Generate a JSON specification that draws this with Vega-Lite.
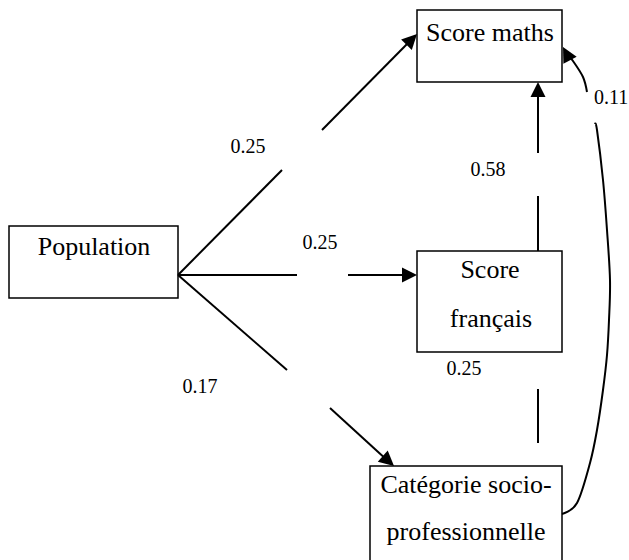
{
  "$schema": "https://vega.github.io/schema/vega-lite/v6.json",
  "width": 629,
  "height": 560,
  "padding": 0,
  "autosize": "none",
  "background": "white",
  "config": {"view": {"stroke": null}},
  "datasets": {
    "boxes": [
      {"node": "Population", "x1": 9, "x2": 178, "y1": 226, "y2": 298},
      {"node": "Score maths", "x1": 417, "x2": 562, "y1": 10, "y2": 82},
      {"node": "Score français", "x1": 417, "x2": 562, "y1": 251, "y2": 352},
      {"node": "Catégorie socio-professionnelle", "x1": 370, "x2": 562, "y1": 466, "y2": 575}
    ],
    "segments": [
      {"edge": "Population-maths", "x1": 178, "y1": 275, "x2": 282, "y2": 170},
      {"edge": "Population-maths", "x1": 322, "y1": 130, "x2": 411, "y2": 40},
      {"edge": "Population-francais", "x1": 178, "y1": 275, "x2": 297, "y2": 275},
      {"edge": "Population-francais", "x1": 348, "y1": 275, "x2": 409, "y2": 275},
      {"edge": "Population-CSP", "x1": 178, "y1": 275, "x2": 287, "y2": 370},
      {"edge": "Population-CSP", "x1": 330, "y1": 408, "x2": 388, "y2": 461},
      {"edge": "francais-maths", "x1": 538, "y1": 251, "x2": 538, "y2": 196},
      {"edge": "francais-maths", "x1": 538, "y1": 153, "x2": 538, "y2": 90},
      {"edge": "CSP-francais", "x1": 538, "y1": 389, "x2": 538, "y2": 443}
    ],
    "curve": [
      {"seg": "a", "i": 0, "x": 562, "y": 514},
      {"seg": "a", "i": 1, "x": 577, "y": 503},
      {"seg": "a", "i": 2, "x": 590, "y": 463},
      {"seg": "a", "i": 3, "x": 597, "y": 430},
      {"seg": "a", "i": 4, "x": 603, "y": 390},
      {"seg": "a", "i": 5, "x": 607, "y": 355},
      {"seg": "a", "i": 6, "x": 609, "y": 320},
      {"seg": "a", "i": 7, "x": 610, "y": 280},
      {"seg": "a", "i": 8, "x": 607, "y": 230},
      {"seg": "a", "i": 9, "x": 603, "y": 180},
      {"seg": "a", "i": 10, "x": 597, "y": 130},
      {"seg": "a", "i": 11, "x": 595, "y": 124},
      {"seg": "b", "i": 0, "x": 587, "y": 92},
      {"seg": "b", "i": 1, "x": 583, "y": 77},
      {"seg": "b", "i": 2, "x": 573, "y": 61},
      {"seg": "b", "i": 3, "x": 567, "y": 54}
    ],
    "arrows": [
      {"edge": "Population-maths", "x": 417, "y": 34, "angle": 44.6},
      {"edge": "Population-francais", "x": 417, "y": 275, "angle": 90},
      {"edge": "Population-CSP", "x": 394, "y": 466, "angle": 131.5},
      {"edge": "francais-maths", "x": 538, "y": 82, "angle": 0},
      {"edge": "CSP-maths", "x": 563, "y": 47, "angle": -28}
    ],
    "nodeText": [
      {"text": "Population", "x": 94, "y": 255},
      {"text": "Score maths", "x": 490, "y": 41},
      {"text": "Score", "x": 490, "y": 278},
      {"text": "français", "x": 491, "y": 327},
      {"text": "Catégorie socio-", "x": 466, "y": 493},
      {"text": "professionnelle", "x": 466, "y": 540}
    ],
    "coefs": [
      {"text": "0.25", "x": 248, "y": 153},
      {"text": "0.25", "x": 320, "y": 249},
      {"text": "0.17", "x": 200, "y": 393},
      {"text": "0.58", "x": 488, "y": 176},
      {"text": "0.25", "x": 464, "y": 375},
      {"text": "0.11", "x": 611, "y": 104}
    ]
  },
  "layer": [
    {
      "data": {"name": "boxes"},
      "mark": {"type": "rect", "fill": "white", "stroke": "black", "strokeWidth": 1.5},
      "encoding": {
        "x": {"field": "x1", "type": "quantitative", "scale": {"domain": [0, 629], "nice": false, "zero": false}, "axis": null},
        "x2": {"field": "x2"},
        "y": {"field": "y1", "type": "quantitative", "scale": {"domain": [0, 560], "nice": false, "zero": false, "reverse": true}, "axis": null},
        "y2": {"field": "y2"}
      }
    },
    {
      "data": {"name": "segments"},
      "mark": {"type": "rule", "color": "black", "strokeWidth": 2, "strokeCap": "butt"},
      "encoding": {
        "x": {"field": "x1", "type": "quantitative"},
        "x2": {"field": "x2"},
        "y": {"field": "y1", "type": "quantitative"},
        "y2": {"field": "y2"}
      }
    },
    {
      "data": {"name": "curve"},
      "mark": {"type": "line", "color": "black", "strokeWidth": 2, "interpolate": "cardinal"},
      "encoding": {
        "x": {"field": "x", "type": "quantitative"},
        "y": {"field": "y", "type": "quantitative"},
        "detail": {"field": "seg"},
        "order": {"field": "i", "type": "quantitative"}
      }
    },
    {
      "data": {"name": "arrows"},
      "mark": {"type": "point", "shape": "M0,0L-0.5,1L0.5,1Z", "filled": true, "size": 900, "color": "black", "opacity": 1, "strokeWidth": 0},
      "encoding": {
        "x": {"field": "x", "type": "quantitative"},
        "y": {"field": "y", "type": "quantitative"},
        "angle": {"field": "angle", "type": "quantitative", "scale": null}
      }
    },
    {
      "data": {"name": "nodeText"},
      "mark": {"type": "text", "font": "Times New Roman, Liberation Serif, serif", "fontSize": 26, "align": "center", "baseline": "alphabetic", "color": "black"},
      "encoding": {
        "x": {"field": "x", "type": "quantitative"},
        "y": {"field": "y", "type": "quantitative"},
        "text": {"field": "text"}
      }
    },
    {
      "data": {"name": "coefs"},
      "mark": {"type": "text", "font": "Times New Roman, Liberation Serif, serif", "fontSize": 20, "align": "center", "baseline": "alphabetic", "color": "black"},
      "encoding": {
        "x": {"field": "x", "type": "quantitative"},
        "y": {"field": "y", "type": "quantitative"},
        "text": {"field": "text"}
      }
    }
  ]
}
